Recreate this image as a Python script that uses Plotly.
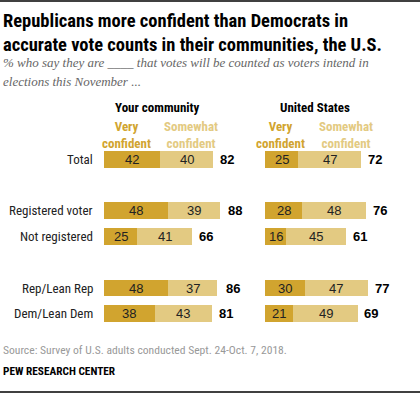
import plotly.graph_objects as go

W, H = 420, 393

categories = ["Total", "Registered voter", "Not registered", "Rep/Lean Rep", "Dem/Lean Dem"]
row_pos = [0, 2, 3, 5, 6]
community_very = [42, 48, 25, 48, 38]
community_somewhat = [40, 39, 41, 37, 43]
community_total = [82, 88, 66, 86, 81]
us_very = [25, 28, 16, 30, 21]
us_somewhat = [47, 48, 45, 47, 49]
us_total = [72, 76, 61, 77, 69]

DARK = "#D1A42F"
LIGHT = "#E3CA82"
FONT = "Liberation Sans, Arial, sans-serif"
NARROW = "Liberation Sans Narrow, Arial Narrow, Roboto Condensed, sans-serif"
SERIF = "Liberation Serif, Times New Roman, serif"

fig = go.Figure()

def add_panel(very, somewhat, totals, xa):
    for vals, col in ((very, DARK), (somewhat, LIGHT)):
        fig.add_trace(go.Bar(
            x=vals, y=row_pos, orientation="h", marker=dict(color=col, line=dict(width=0)),
            textposition="none", xaxis=xa, yaxis="y",
            width=0.66, hoverinfo="skip", showlegend=False))
    for v, s, t, y in zip(very, somewhat, totals, row_pos):
        fig.add_annotation(x=v / 2, y=y, xref=xa, yref="y", text=str(v), showarrow=False,
                           font=dict(family=FONT, size=13, color="#222"))
        fig.add_annotation(x=v + s / 2, y=y, xref=xa, yref="y", text=str(s), showarrow=False,
                           font=dict(family=FONT, size=13, color="#222"))
        fig.add_annotation(x=t, y=y, xref=xa, yref="y", text="<b>%d</b>" % t,
                           showarrow=False, xanchor="left", xshift=5,
                           font=dict(family=FONT, size=13, color="#000"))

add_panel(community_very, community_somewhat, community_total, "x")
add_panel(us_very, us_somewhat, us_total, "x2")

for c, y in zip(categories, row_pos):
    fig.add_annotation(x=95 / W, y=y, xref="paper", yref="y", text=c, showarrow=False,
                       xanchor="right", font=dict(family=NARROW, size=13, color="#222"))

def ptext(x, y, text, size, color, anchor="left", family=FONT):
    fig.add_annotation(x=x / W, y=1 - y / H, xref="paper", yref="paper", text=text,
                       showarrow=False, xanchor=anchor, yanchor="middle",
                       font=dict(family=family, size=size, color=color),
                       align="center" if anchor == "center" else "left")

ptext(1, 21, "<b>Republicans more confident than Democrats in</b>", 18.5, "#000", family=NARROW)
ptext(1, 45, "<b>accurate vote counts in their communities, the U.S.</b>", 18.5, "#000", family=NARROW)
ptext(1, 63, "<i>% who say they are ____ that votes will be counted as voters intend in</i>", 13, "#666", family=SERIF)
ptext(1, 81, "<i>elections this November ...</i>", 13, "#666", family=SERIF)

ptext(157.5, 107.5, "<b>Your community</b>", 13, "#000", "center", family=NARROW)
ptext(315, 107.5, "<b>United States</b>", 13, "#000", "center", family=NARROW)
ptext(126, 134.5, "<b>Very<br>confident</b>", 13, DARK, "center", family=NARROW)
ptext(191, 134.5, "<b>Somewhat<br>confident</b>", 13, LIGHT, "center", family=NARROW)
ptext(280.5, 134.5, "<b>Very<br>confident</b>", 13, DARK, "center", family=NARROW)
ptext(345.5, 134.5, "<b>Somewhat<br>confident</b>", 13, LIGHT, "center", family=NARROW)

ptext(1, 350, "Source: Survey of U.S. adults conducted Sept. 24-Oct. 7, 2018.", 11.6, "#999", family=NARROW)
ptext(1, 371, "<b>PEW RESEARCH CENTER</b>", 11.3, "#000", family=NARROW)

fig.add_shape(type="line", xref="paper", yref="paper", x0=0, x1=1, y0=1 - 1 / H, y1=1 - 1 / H,
              line=dict(color="#000", width=1.5))
fig.add_shape(type="line", xref="paper", yref="paper", x0=0, x1=1, y0=1 - 392 / H, y1=1 - 392 / H,
              line=dict(color="#000", width=1.5))

px_per = 1.335
row_h = 25.7
y0 = 159.5
fig.update_layout(
    width=W, height=H, margin=dict(l=0, r=0, t=0, b=0),
    paper_bgcolor="white", plot_bgcolor="white", barmode="stack",
    xaxis=dict(domain=[104 / W, (104 + 100 * px_per) / W], range=[0, 100], visible=False, fixedrange=True),
    xaxis2=dict(domain=[265 / W, (265 + 100 * px_per) / W], range=[0, 100], visible=False, fixedrange=True),
    yaxis=dict(domain=[0, 1], range=[(H - y0) / row_h, -y0 / row_h], visible=False, fixedrange=True),
)

fig.write_html("out.html", config={"displayModeBar": False},
               post_script="document.body.style.margin='0';document.body.style.overflow='hidden';")
